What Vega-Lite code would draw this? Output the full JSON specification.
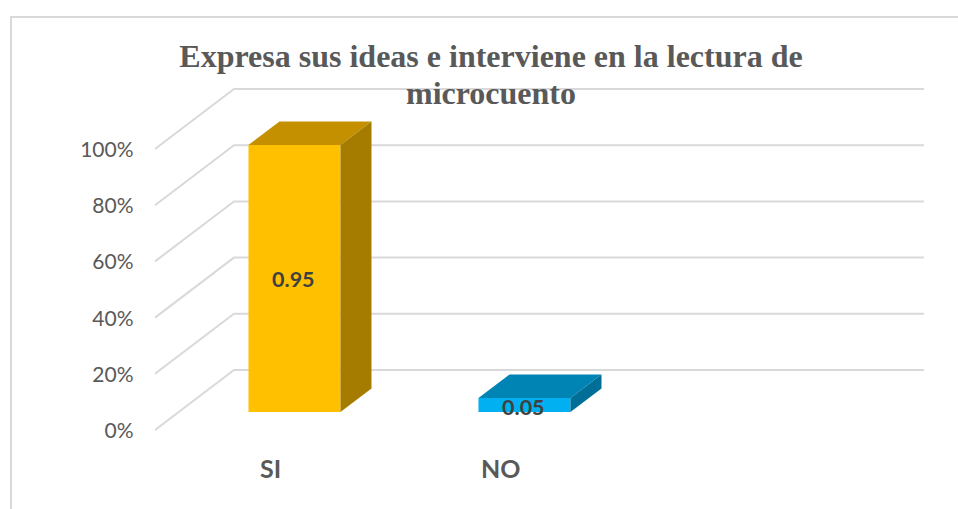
{
"$schema":"https://vega.github.io/schema/vega-lite/v6.json",
"width":958,"height":509,"padding":0,"autosize":{"type":"none"},
"background":"white",
"config":{"view":{"stroke":null}},
"title":{"text":["Expresa sus ideas e interviene en la lectura de","microcuento"],"font":"Liberation Serif","fontSize":32,"fontWeight":"bold","color":"#595959","anchor":"start","align":"center","baseline":"alphabetic","dx":491,"dy":136,"lineHeight":37,"offset":0},
"datasets":{
"grid":[
{"tick":0,"x":0.3935,"y":0},{"tick":0,"x":0.737,"y":21.35},{"tick":0,"x":3.737,"y":21.35},
{"tick":20,"x":0.3935,"y":20},{"tick":20,"x":0.737,"y":41.35},{"tick":20,"x":3.737,"y":41.35},
{"tick":40,"x":0.3935,"y":40},{"tick":40,"x":0.737,"y":61.35},{"tick":40,"x":3.737,"y":61.35},
{"tick":60,"x":0.3935,"y":60},{"tick":60,"x":0.737,"y":81.35},{"tick":60,"x":3.737,"y":81.35},
{"tick":80,"x":0.3935,"y":80},{"tick":80,"x":0.737,"y":101.35},{"tick":80,"x":3.737,"y":101.35},
{"tick":100,"x":0.3935,"y":100},{"tick":100,"x":0.737,"y":121.35},{"tick":100,"x":3.737,"y":121.35}
],
"frame":[{"x":-0.2326,"y":-28.11},{"x":-0.2326,"y":146.98},{"x":3.885,"y":146.98}],
"faces":[
{"face":"SI front","x":0.8,"y":101.41,"y2":6.41},{"face":"SI front","x":1.2,"y":101.41,"y2":6.41},
{"face":"SI top","x":0.8,"y":101.41,"y2":101.41},{"face":"SI top","x":0.9348,"y":109.78,"y2":101.41},{"face":"SI top","x":1.2,"y":109.78,"y2":101.41},{"face":"SI top","x":1.3348,"y":109.78,"y2":109.78},
{"face":"SI side","x":1.2,"y":101.41,"y2":6.41},{"face":"SI side","x":1.3348,"y":109.78,"y2":14.77},
{"face":"NO front","x":1.8,"y":11.41,"y2":6.41},{"face":"NO front","x":2.2,"y":11.41,"y2":6.41},
{"face":"NO top","x":1.8,"y":11.41,"y2":11.41},{"face":"NO top","x":1.9348,"y":19.77,"y2":11.41},{"face":"NO top","x":2.2,"y":19.77,"y2":11.41},{"face":"NO top","x":2.3348,"y":19.77,"y2":19.77},
{"face":"NO side","x":2.2,"y":11.41,"y2":6.41},{"face":"NO side","x":2.3348,"y":19.77,"y2":14.77}
],
"labels":[{"category":"SI","value":0.95,"x":0.995,"y":53.0},{"category":"NO","value":0.05,"x":1.995,"y":7.6}]
},
"encoding":{
"x":{"field":"x","type":"quantitative","scale":{"domain":[-0.2804,3.885],"nice":false,"zero":false},
"axis":{"title":null,"grid":false,"domain":false,"ticks":false,"values":[0.8935,1.895],"labelExpr":"datum.value<1.5?'SI':'NO'","labelFont":"Lato","labelFontSize":25,"labelFontWeight":"bold","labelColor":"#595959","labelPadding":0,"offset":-52,"labelFlush":false}},
"y":{"field":"y","type":"quantitative","scale":{"domain":[-28.11,153.02],"nice":false,"zero":false},
"axis":{"title":null,"grid":false,"domain":false,"ticks":false,"values":[0,20,40,60,80,100],"labelExpr":"datum.value+'%'","labelFont":"Lato","labelFontSize":21,"labelColor":"#595959","labelPadding":0,"labelOffset":1.5,"offset":-133}}
},
"layer":[
{"data":{"name":"frame"},"mark":{"type":"line","stroke":"#d9d9d9","strokeWidth":2}},
{"data":{"name":"grid"},"mark":{"type":"line","stroke":"#d9d9d9","strokeWidth":2},"encoding":{"detail":{"field":"tick"}}},
{"data":{"name":"faces"},"mark":{"type":"area","opacity":1},"encoding":{
"y2":{"field":"y2"},
"color":{"field":"face","type":"nominal","legend":null,"scale":{"domain":["SI front","SI top","SI side","NO front","NO top","NO side"],"range":["#ffc000","#c49000","#a67c00","#00b0f0","#0084b4","#006f98"]}}}},
{"data":{"name":"labels"},"mark":{"type":"text","font":"Lato","fontSize":21.5,"fontWeight":"bold","color":"#404040","align":"center","baseline":"middle"},"encoding":{"text":{"field":"value","type":"quantitative","format":".2f"}}}
]
}
